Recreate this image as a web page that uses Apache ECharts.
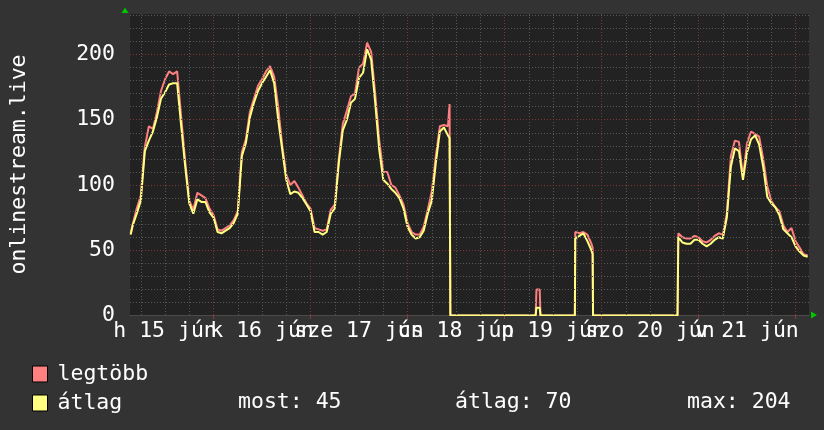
<!DOCTYPE html>
<html>
<head>
<meta charset="utf-8">
<script src="https://cdn.jsdelivr.net/npm/echarts@6/dist/echarts.min.js"></script>
<style>
html, body { margin: 0; padding: 0; background: #333333; }
#chart { width: 824px; height: 430px; }
</style>
</head>
<body>
<div id="chart"></div>
<script>
// hours since 15 jún 00:00
var hours = [
  3.5, 4, 5, 6, 7, 8, 9, 10, 11, 12, 13, 14, 15, 16, 17, 18, 19, 20, 21, 22, 23, 24,
  25, 26, 27, 28, 29, 30, 31, 32, 33, 34, 35, 36, 37, 38, 39, 40, 41, 42, 43, 44, 45, 46,
  47, 48, 49, 50, 51, 52, 53, 54, 55, 56, 57, 58, 59, 60, 61, 62, 63, 64, 65, 66, 67, 68, 69, 70,
  71, 72, 73, 74, 75, 76, 77, 78, 79, 80, 81, 82, 82.4, 82.6,
  103.7, 103.9, 104.7, 104.9,
  113.4, 113.5, 114.5, 115.5, 116.5, 117.5, 117.8, 117.9,
  138.8, 139, 140, 141, 142, 143, 144, 145, 146, 147, 148, 149, 150, 151, 152, 153, 154, 155,
  156, 157, 158, 159, 160, 161, 162, 163, 164, 165, 166, 167, 168, 169, 170, 171
];
var maxVals = [
  63, 70, 82, 92, 129, 145, 143, 156, 172, 181, 187, 185, 187, 152, 118, 88, 81, 94, 92, 90, 82, 77,
  66, 65, 67, 69, 73, 80, 125, 135, 156, 166, 176, 181, 187, 191, 183, 160, 130, 108, 100, 103, 98, 92,
  86, 82, 67, 66, 65, 66, 81, 85, 120, 147, 157, 168, 170, 190, 193, 209, 202, 170, 134, 110, 110, 100, 98, 92,
  85, 71, 64, 62, 62, 68, 81, 95, 122, 145, 146, 145, 162, 0,
  0, 20, 20, 0,
  0, 64, 63, 64, 62, 55, 52, 0,
  0, 63, 60, 59, 59, 61, 60, 57, 56, 58, 61, 63, 62, 78, 122, 134, 133, 106,
  132, 141, 139, 137, 120, 99, 88, 83, 80, 69, 64, 67, 57, 52, 47, 46
];
var avgVals = [
  62, 69, 78, 88, 126, 134, 141, 152, 166, 171, 177, 178, 178, 145, 114, 86, 78, 89, 87, 87, 79, 75,
  64, 63, 65, 67, 71, 78, 122, 132, 152, 163, 172, 178, 183, 188, 178, 150, 127, 104, 93, 95, 94, 90,
  85, 80, 64, 64, 62, 64, 78, 82, 117, 142, 150, 163, 166, 182, 186, 204, 196, 163, 127, 104, 101, 97, 94, 90,
  82, 68, 62, 59, 60, 65, 78, 88, 117, 141, 144, 138, 136, 0,
  0, 6, 6, 0,
  0, 59, 61, 63, 57, 50, 47, 0,
  0, 60, 56, 55, 55, 58, 58, 55, 53, 55, 58, 60, 59, 75, 114, 128, 126, 104,
  125, 135, 138, 131, 114, 91, 86, 83, 77, 66, 63, 60, 53, 49, 46, 45
];

// day labels sit at noon; split over two axes so neighbours may overlap like the original
var dayLabelHoursA = [12, 60, 108, 156];
var dayLabelsA = ['h 15 jún', 'sze 17 jún', 'p 19 jún', 'v 21 jún'];
var dayLabelHoursB = [36, 84, 132];
var dayLabelsB = ['k 16 jún', 'cs 18 jún', 'szo 20 jún'];
var minorHours = [6, 12, 18, 30, 36, 42, 54, 60, 66, 78, 84, 90, 102, 108, 114, 126, 132, 138, 150, 156, 162];
var majorHours = [24, 48, 72, 96, 120, 144, 168];
var minorValues = [10, 20, 30, 40, 60, 70, 80, 90, 110, 120, 130, 140, 160, 170, 180, 190, 210, 220, 230];
var majorValues = [50, 100, 150, 200];
// the zero line lies half a pixel under the plot edge, as in the original
var yMin = 0.4;
var yTicks = [yMin, 50, 100, 150, 200];
var seriesNames = ['legtöbb', 'átlag'];
var statLabels = ['most: 45', 'átlag: 70', 'max: 204'];

var FONT = 'DejaVu Sans Mono';
var FS = 21.5;

function pairs(vals) {
  return hours.map(function (h, i) { return [h, vals[i]]; });
}

function dayAxis(ticks, names, showLine) {
  return {
    type: 'value',
    min: 3.333, max: 171.333,
    position: 'bottom',
    axisLine: { show: showLine, lineStyle: { color: '#4a4a4a', width: 1 } },
    axisTick: { show: showLine, customValues: majorHours, length: 4, lineStyle: { color: '#8a3a3a' } },
    splitLine: { show: false },
    axisLabel: {
      customValues: ticks,
      showMinLabel: true, showMaxLabel: true,
      formatter: function (v) {
        var i = ticks.indexOf(v);
        return i >= 0 ? names[i] : '';
      },
      color: '#ffffff', fontFamily: FONT, fontSize: FS, margin: 5
    }
  };
}

var minorStyle = { color: '#585858', width: 1, type: [1, 2] };
var majorStyle = { color: '#7c3838', width: 1, type: [1, 2] };

var gridLines = []
  .concat(minorHours.map(function (h) { return { xAxis: h, lineStyle: minorStyle }; }))
  .concat(minorValues.map(function (v) { return { yAxis: v, lineStyle: minorStyle }; }))
  .concat(majorHours.map(function (h) { return { xAxis: h, lineStyle: majorStyle }; }))
  .concat(majorValues.map(function (v) { return { yAxis: v, lineStyle: majorStyle }; }));

var option = {
  backgroundColor: '#333333',
  animation: false,
  grid: {
    left: 124, right: 15, top: 14, bottom: 115,
    show: true, backgroundColor: '#222222', borderWidth: 0
  },
  legend: {
    data: seriesNames,
    orient: 'vertical',
    left: 32, top: 363,
    padding: 0,
    itemWidth: 15, itemHeight: 16, itemGap: 7,
    icon: 'rect',
    selectedMode: false,
    itemStyle: { borderColor: '#000', borderWidth: 1 },
    textStyle: { color: '#ffffff', fontFamily: FONT, fontSize: FS, padding: [0, 0, 0, 5] }
  },
  xAxis: [
    dayAxis(dayLabelHoursA, dayLabelsA, true),
    dayAxis(dayLabelHoursB, dayLabelsB, false)
  ],
  yAxis: {
    type: 'value',
    min: yMin, max: 231,
    name: 'onlinestream.live',
    nameLocation: 'middle', nameRotate: 90, nameGap: 100,
    nameTextStyle: { color: '#ffffff', fontFamily: FONT, fontSize: FS },
    axisLine: { show: false },
    axisTick: { show: false },
    splitLine: { show: false },
    axisLabel: {
      customValues: yTicks,
      formatter: function (v) { return String(Math.round(v)); },
      color: '#ffffff', fontFamily: FONT, fontSize: FS, margin: 15
    }
  },
  series: [
    {
      type: 'line', name: 'grid', data: [], z: 1, silent: true,
      markLine: { silent: true, symbol: 'none', animation: false, label: { show: false }, data: gridLines }
    },
    {
      name: seriesNames[0], type: 'line', data: pairs(maxVals),
      symbol: 'none', z: 3, silent: true,
      lineStyle: { color: '#ff8080', width: 2 },
      itemStyle: { color: '#ff8080' }
    },
    {
      name: seriesNames[1], type: 'line', data: pairs(avgVals),
      symbol: 'none', z: 4, silent: true,
      lineStyle: { color: '#ffff80', width: 2 },
      itemStyle: { color: '#ffff80' }
    }
  ],
  graphic: [
    { type: 'polygon', shape: { points: [[121.5, 13], [128.5, 13], [125, 7.5]] }, style: { fill: '#00c800' } },
    { type: 'polygon', shape: { points: [[811, 311.5], [811, 318.5], [817, 315]] }, style: { fill: '#00c800' } },
    { type: 'text', x: 238, y: 402, style: { text: statLabels[0], fill: '#ffffff', font: FS + 'px "' + FONT + '"', verticalAlign: 'middle' } },
    { type: 'text', x: 455, y: 402, style: { text: statLabels[1], fill: '#ffffff', font: FS + 'px "' + FONT + '"', verticalAlign: 'middle' } },
    { type: 'text', x: 687, y: 402, style: { text: statLabels[2], fill: '#ffffff', font: FS + 'px "' + FONT + '"', verticalAlign: 'middle' } }
  ]
};

var myChart = echarts.init(document.getElementById('chart'));
myChart.setOption(option);
</script>
</body>
</html>
